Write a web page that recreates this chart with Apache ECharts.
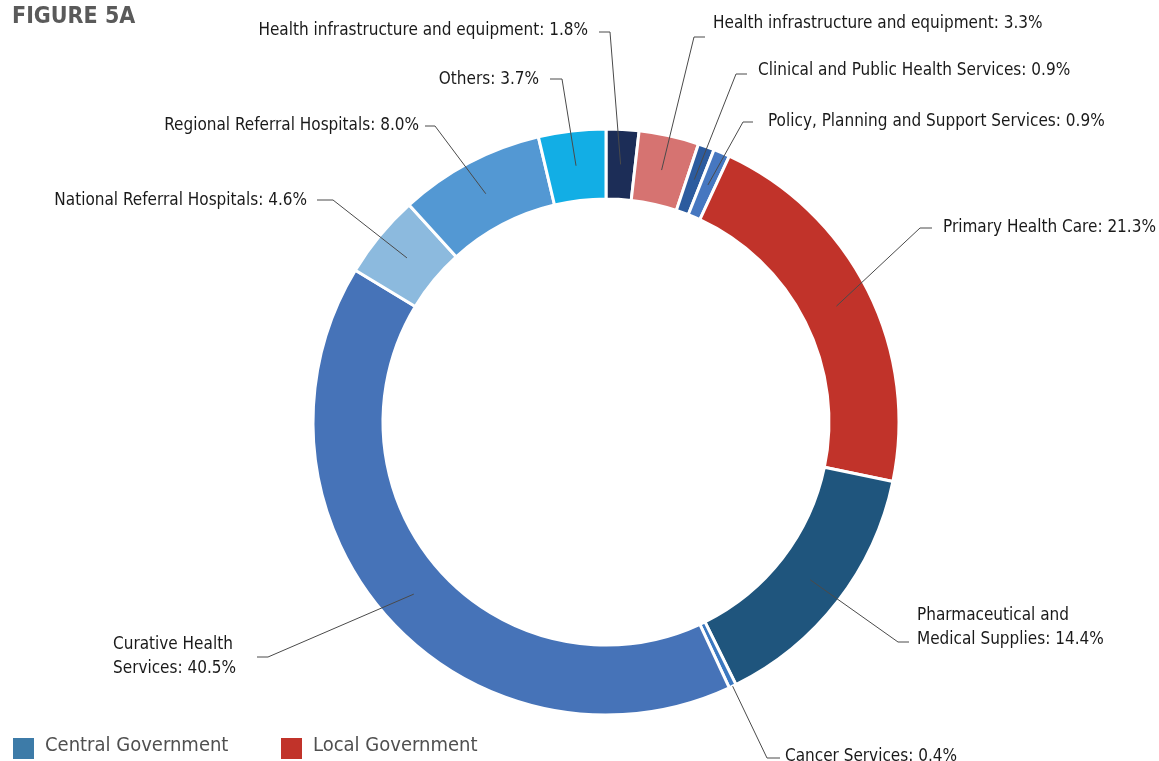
<!DOCTYPE html>
<html>
<head>
<meta charset="utf-8">
<title>Figure 5A</title>
<script src="https://cdn.jsdelivr.net/npm/echarts@6/dist/echarts.min.js"></script>
<style>
  html, body { margin: 0; padding: 0; background: #fff; }
  #chart { width: 1159px; height: 761px; }
</style>
</head>
<body>
<div id="chart"></div>
<script>
// slices, clockwise from 12 o'clock
var categories = [
  'Health infrastructure and equipment',
  'Health infrastructure and equipment',
  'Clinical and Public Health Services',
  'Policy, Planning and Support Services',
  'Primary Health Care',
  'Pharmaceutical and\nMedical Supplies',
  'Cancer Services',
  'Curative Health\nServices',
  'National Referral Hospitals',
  'Regional Referral Hospitals',
  'Others'
];
var shares = [1.8, 3.3, 0.9, 0.9, 21.3, 14.4, 0.4, 40.5, 4.6, 8.0, 3.7];
var colors = ['#1c2d57', '#d67371', '#2c5b9e', '#4677c0', '#c1332a', '#1f557d',
              '#3b78c0', '#4673b8', '#8cbade', '#5398d3', '#12aee5'];
var legendNames = ['Central Government', 'Local Government'];
var legendColors = ['#3d7ba8', '#c1332a'];

var FONT = '"Liberation Sans Narrow", "DejaVu Sans Condensed", "Roboto", sans-serif';
var CX = 606, CY = 422, R0 = 223, R1 = 293, MID_R = 258;

// where each label sits, and where its leader line bends / ends
var labelPos = [
  {x: 588, y: 31,  align: 'right', ly: 32,  bx: 610, ex: 599},
  {x: 713, y: 24,  align: 'left',  ly: 37,  bx: 694, ex: 705},
  {x: 758, y: 71,  align: 'left',  ly: 74,  bx: 736, ex: 747},
  {x: 768, y: 122, align: 'left',  ly: 122, bx: 743, ex: 753},
  {x: 943, y: 228, align: 'left',  ly: 228, bx: 920, ex: 932},
  {x: 917, y: 628, align: 'left',  ly: 642, bx: 898, ex: 909},
  {x: 785, y: 757, align: 'left',  ly: 758, bx: 767, ex: 780, r: R1},
  {x: 113, y: 657, align: 'left',  ly: 657, bx: 268, ex: 257},
  {x: 307, y: 201, align: 'right', ly: 200, bx: 333, ex: 317},
  {x: 419, y: 126, align: 'right', ly: 126, bx: 435, ex: 425},
  {x: 539, y: 80,  align: 'right', ly: 79,  bx: 562, ex: 550}
];

var total = 0;
for (var k = 0; k < shares.length; k++) total += shares[k];

// mid angle of each slice, measured clockwise from 12 o'clock
var midAngles = [];
var run = 0;
for (var m = 0; m < shares.length; m++) {
  midAngles.push((run + shares[m] / 2) / total * Math.PI * 2);
  run += shares[m];
}

var pieData = [];
for (var i = 0; i < shares.length; i++) {
  pieData.push({
    name: categories[i],
    value: shares[i],
    itemStyle: {color: colors[i]}
  });
}

var chart = echarts.init(document.getElementById('chart'));

var graphics = [];
// leader lines: from the middle of the ring out to the label
for (var n = 0; n < shares.length; n++) {
  var pos = labelPos[n];
  var a = midAngles[n];
  var r = pos.r || MID_R;
  graphics.push({
    type: 'polyline', z: 10, silent: true,
    shape: {points: [
      [CX + Math.sin(a) * r, CY - Math.cos(a) * r],
      [pos.bx, pos.ly],
      [pos.ex, pos.ly]
    ]},
    style: {stroke: '#4a4a4a', lineWidth: 1, fill: null}
  });
}
for (var j = 0; j < legendNames.length; j++) {
  var lx = 13 + j * 268;
  graphics.push({
    type: 'rect', left: lx, top: 738,
    shape: {width: 21, height: 21},
    style: {fill: legendColors[j]}
  });
  graphics.push({
    type: 'text', left: lx + 32, top: 736,
    style: {text: legendNames[j], font: '20px ' + FONT, fill: '#505050'}
  });
}

var option = {
  animation: false,
  title: {
    text: 'FIGURE 5A',
    left: 7, top: 1,
    textStyle: {fontFamily: FONT, fontSize: 23, fontWeight: 'bold', color: '#5a5a5a'}
  },
  graphic: graphics,
  series: [{
    type: 'pie',
    center: [CX, CY],
    radius: [R0, R1],
    startAngle: 90,
    clockwise: true,
    avoidLabelOverlap: false,
    minShowLabelAngle: 0,
    data: pieData,
    itemStyle: {borderColor: '#fff', borderWidth: 3},
    label: {
      show: true,
      position: 'outside',
      formatter: function (p) {
        return p.name + ': ' + p.value.toFixed(1) + '%';
      },
      fontFamily: FONT,
      fontSize: 17,
      lineHeight: 24,
      color: '#1a1a1a'
    },
    labelLine: {show: false},
    labelLayout: function (p) {
      var lp = labelPos[p.dataIndex];
      return {x: lp.x, y: lp.y, align: lp.align, verticalAlign: 'middle'};
    },
    emphasis: {disabled: true}
  }]
};

chart.setOption(option);
window.onresize = chart.resize;
</script>
</body>
</html>
